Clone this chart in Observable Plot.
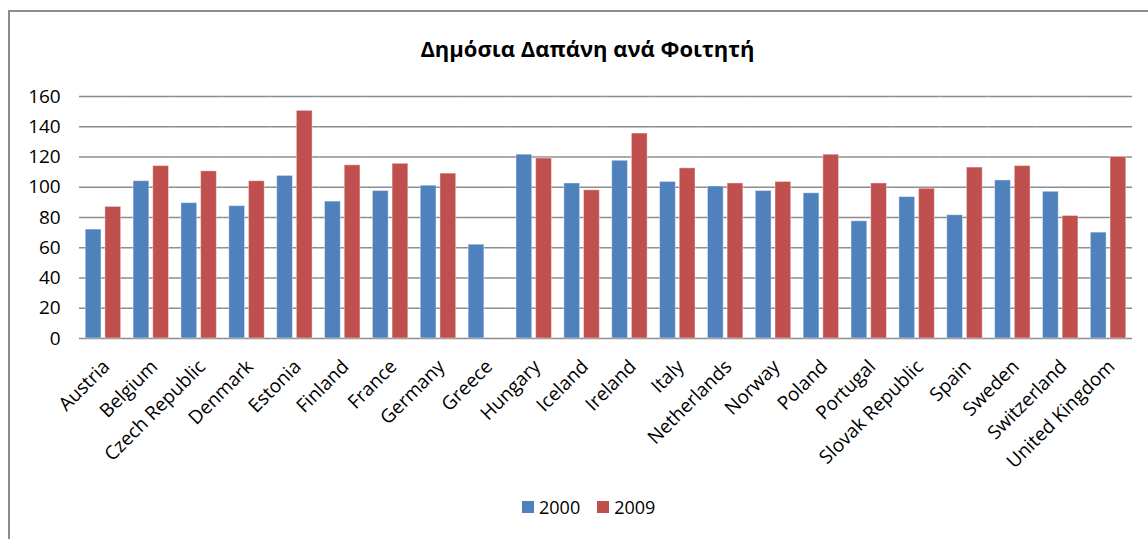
<!DOCTYPE html>
<html><head><meta charset="utf-8">
<script src="https://cdn.jsdelivr.net/npm/d3@7"></script>
<script src="https://cdn.jsdelivr.net/npm/@observablehq/plot@0.6"></script>
<style>
body{margin:0;background:#fff;overflow:hidden;font-family:"Open Sans",sans-serif;color:#000;}
#wrap{position:relative;width:1148px;height:539px;overflow:hidden;}
#border{position:absolute;left:8px;top:10px;width:2000px;height:2000px;border:2px solid #8c8c8c;}
#title{position:absolute;left:0;width:1175px;top:34px;text-align:center;font-weight:bold;font-size:22px;line-height:28px;}
#chart{position:absolute;left:0;top:80px;}
#legend{position:absolute;left:522px;top:495px;font-size:18px;line-height:24px;display:flex;align-items:center;}
.sw{width:12px;height:12px;display:inline-block;margin-right:5px;}
.item{display:flex;align-items:center;margin-right:17px;}
</style></head><body>
<div id="wrap"><div id="border"></div><div id="title">Δημόσια Δαπάνη ανά Φοιτητή</div><div id="chart"></div><div id="legend"></div></div>
<script>
const countries = ["Austria","Belgium","Czech Republic","Denmark","Estonia","Finland","France","Germany","Greece","Hungary","Iceland","Ireland","Italy","Netherlands","Norway","Poland","Portugal","Slovak Republic","Spain","Sweden","Switzerland","United Kingdom"];
const values2000 = [72,104,89.5,87.5,107.5,90.5,97.5,101,62,121.5,102.5,117.5,103.5,100.5,97.5,96,77.5,93.5,81.5,104.5,97,70];
const values2009 = [87,114,110.5,104,150.5,114.5,115.5,109,null,119,98,135.5,112.5,102.5,103.5,121.5,102.5,99,113,114,81,120];
const years = ["2000","2009"];
const yTicks = [0,20,40,60,80,100,120,140,160];
const colors = ["#4f81bd","#c0504d"];

const data = countries.flatMap((c,i)=>[
  {country:c, year:years[0], value:values2000[i]},
  {country:c, year:years[1], value:values2009[i]}
]).filter(d=>d.value!=null);

const W = 1148, mL = 79, mR = 16, pOuter = 0.13, pInner = 0.26;
// half of the gap between facets, so each facet's gridline meets its neighbour's
const halfGap = (W - mL - mR) / countries.length * pOuter;

const plot = Plot.plot({
  width:W, height:400,
  marginLeft:mL, marginRight:mR, marginTop:16, marginBottom:142,
  style:{fontFamily:"Open Sans", fontSize:"19px", color:"#000", background:"transparent", overflow:"visible"},
  fx:{domain:countries, round:false, paddingInner:pInner, paddingOuter:pOuter, label:null, axis:null},
  x:{domain:years, round:false, paddingInner:0.2, paddingOuter:0, axis:null},
  y:{domain:[0,160], ticks:yTicks, label:null, tickSize:0, tickPadding:25},
  color:{domain:years, range:colors},
  marks:[
    Plot.ruleY(yTicks, {stroke:"#8c8c8c", strokeWidth:1.6, insetLeft:-halfGap, insetRight:-halfGap}),
    Plot.barY(data, {fx:"country", x:"year", y:"value", fill:"year", stroke:"#ffffff", strokeOpacity:0.4, strokeWidth:1}),
    Plot.axisFx({anchor:"bottom", tickRotate:-45, tickSize:0, tickPadding:25, dx:3, label:null})
  ]
});
document.getElementById("chart").appendChild(plot);

const legend = document.getElementById("legend");
years.forEach((y,i)=>{
  const it = document.createElement("div"); it.className="item";
  const sw = document.createElement("span"); sw.className="sw"; sw.style.background=colors[i];
  const t = document.createElement("span"); t.textContent=y;
  it.appendChild(sw); it.appendChild(t); legend.appendChild(it);
});
</script>
</body></html>
